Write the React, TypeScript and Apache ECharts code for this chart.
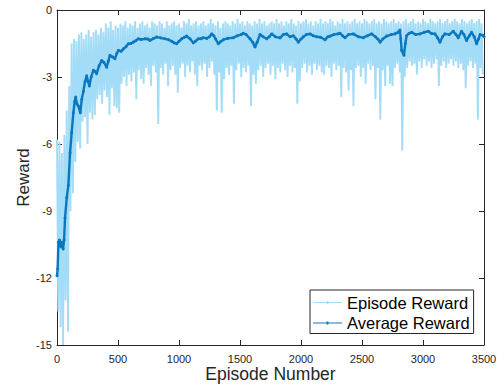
import React, { useEffect, useRef } from "react";
import * as echarts from "echarts";

// Axis ranges / ticks
const X_MIN = 0;
const X_MAX = 3500;
const X_STEP = 500;
const Y_MIN = -15;
const Y_MAX = 0;
const Y_STEP = 3;

// Episode reward: band, one (upper, lower) pair per 20 episodes
const EP_BIN = 20;
const EP_HIGH = [
  -5.8, -5.9, -6.4, -5.6, -4.5, -3.4, -1.5, -1.3, -1.4, -1.1,
  -1.0, -1.3, -1.1, -0.9, -1.2, -1.0, -0.9, -1.1, -0.8, -1.0,
  -0.6, -0.8, -0.5, -0.9, -0.7, -0.8, -0.6, -0.7, -0.5, -0.8,
  -0.6, -0.7, -0.5, -0.8, -0.6, -0.5, -0.7, -0.6, -0.8, -0.5,
  -0.6, -0.7, -0.5, -0.6, -0.8, -0.5, -0.7, -0.6, -0.5, -0.7,
  -0.6, -0.8, -0.5, -0.6, -0.4, -0.7, -0.6, -0.5, -0.7, -0.6,
  -0.5, -0.7, -0.6, -0.4, -0.6, -0.7, -0.5, -0.8, -0.6, -0.5,
  -0.6, -0.7, -0.5, -0.6, -0.4, -0.6, -0.5, -0.7, -0.5, -0.6,
  -0.7, -0.5, -0.6, -0.4, -0.6, -0.5, -0.7, -0.6, -0.5, -0.6,
  -0.4, -0.6, -0.5, -0.7, -0.5, -0.6, -0.4, -0.6, -0.7, -0.5,
  -0.6, -0.5, -0.4, -0.6, -0.5, -0.7, -0.5, -0.6, -0.4, -0.6,
  -0.5, -0.6, -0.4, -0.5, -0.7, -0.5, -0.6, -0.4, -0.6, -0.5,
  -0.6, -0.5, -0.4, -0.6, -0.5, -0.6, -0.4, -0.5, -0.6, -0.5,
  -0.4, -0.6, -0.5, -0.6, -0.4, -0.5, -0.6, -0.5, -0.4, -0.6,
  -0.5, -0.6, -0.5, -0.4, -0.6, -0.5, -0.4, -0.6, -0.5, -0.6,
  -0.4, -0.5, -0.6, -0.4, -0.5, -0.6, -0.5, -0.4, -0.6, -0.5,
  -0.4, -0.6, -0.5, -0.4, -0.5, -0.6, -0.4, -0.5, -0.6, -0.5,
  -0.4, -0.6, -0.5, -0.4, -0.6,
];
const EP_LOW = [
  -13.5, -14.2, -15.0, -13.0, -14.4, -9.0, -8.2, -6.8, -5.9, -6.2,
  -5.0, -4.8, -6.0, -4.6, -4.9, -4.7, -4.0, -3.8, -4.2, -3.6,
  -3.9, -4.7, -3.5, -4.3, -4.4, -4.6, -3.3, -3.0, -3.4, -2.9,
  -3.2, -2.8, -4.0, -2.7, -3.1, -3.3, -2.6, -2.9, -3.4, -2.5,
  -2.8, -5.1, -2.6, -2.9, -2.4, -3.4, -2.7, -2.5, -2.9, -3.7,
  -2.6, -2.4, -3.0, -2.5, -2.8, -2.3, -2.9, -3.4, -2.5, -2.7,
  -2.4, -3.0, -2.6, -2.3, -2.9, -4.5, -2.8, -4.6, -3.1, -2.6,
  -2.9, -2.5, -4.2, -2.7, -2.4, -3.0, -2.6, -2.8, -2.5, -4.3,
  -2.9, -3.3, -2.7, -2.5, -3.0, -2.6, -2.4, -2.9, -2.5, -3.1,
  -2.6, -2.8, -2.4, -2.7, -3.0, -2.5, -2.8, -2.6, -4.2, -3.2,
  -2.6, -2.4, -2.8, -2.5, -2.9, -2.4, -2.7, -2.5, -2.8, -2.9,
  -2.5, -2.6, -3.0, -2.4, -2.7, -2.5, -3.9, -2.6, -2.8, -3.6,
  -2.7, -4.3, -2.6, -2.5, -3.0, -2.6, -3.3, -2.4, -2.7, -2.5,
  -4.0, -2.6, -4.9, -2.7, -3.4, -2.5, -3.3, -3.4, -2.6, -2.4,
  -2.8, -6.3, -3.0, -2.6, -2.3, -2.5, -2.4, -2.9, -2.3, -2.6,
  -2.2, -2.5, -2.3, -2.6, -2.4, -2.2, -3.4, -2.5, -2.3, -2.6,
  -2.4, -2.2, -2.5, -2.3, -2.6, -2.4, -2.7, -3.5, -2.5, -2.3,
  -2.6, -2.4, -4.9, -2.6, -2.9,
];

// Average reward: [episode, value]
const AVG_EPISODES = [
  0, 5, 12, 20, 30, 40, 50, 58, 66, 80, 93, 107, 120, 134, 145, 153, 163, 175, 191, 203,
  216, 230, 243, 255, 265, 280, 298, 312, 325, 345, 366, 385, 407, 420, 434, 455, 475, 490, 503, 525,
  544, 565, 585, 605, 625, 645, 666, 690, 721, 745, 762, 790, 817, 850, 885, 915, 940, 960, 981, 1000,
  1022, 1045, 1063, 1090, 1117, 1135, 1158, 1180, 1199, 1227, 1250, 1268, 1285, 1300, 1322, 1340, 1363, 1400, 1445, 1480,
  1510, 1527, 1550, 1582, 1605, 1623, 1640, 1664, 1690, 1719, 1740, 1760, 1790, 1828, 1855, 1882, 1910, 1937, 1960, 1978,
  2000, 2019, 2045, 2074, 2100, 2128, 2160, 2197, 2220, 2238, 2270, 2300, 2320, 2340, 2361, 2390, 2429, 2470, 2511, 2545,
  2579, 2610, 2630, 2648, 2670, 2702, 2740, 2770, 2795, 2811, 2818, 2825, 2844, 2855, 2866, 2885, 2907, 2940, 2975, 3010,
  3043, 3070, 3098, 3120, 3139, 3160, 3180, 3215, 3248, 3270, 3289, 3316, 3335, 3357, 3380, 3398, 3420, 3439, 3455, 3467,
  3494, 3500,
];
const AVG_VALUES = [
  -11.9, -11.6, -10.4, -10.3, -10.6, -10.4, -10.7, -10.3, -9.3, -8.4, -7.85, -6.4, -5.5, -4.6, -4.1, -3.9, -4.2, -4.3, -4.6, -4.0,
  -3.65, -3.2, -2.95, -3.2, -3.4, -3.0, -2.7, -2.75, -2.85, -2.5, -2.26, -2.35, -2.56, -2.3, -2.03, -2.1, -2.18, -1.95, -1.81, -1.85,
  -1.74, -1.65, -1.51, -1.5, -1.44, -1.38, -1.29, -1.32, -1.29, -1.3, -1.36, -1.28, -1.21, -1.25, -1.29, -1.33, -1.4, -1.47, -1.51, -1.4,
  -1.29, -1.22, -1.17, -1.29, -1.47, -1.4, -1.29, -1.29, -1.24, -1.27, -1.2, -1.07, -1.15, -1.3, -1.51, -1.42, -1.33, -1.27, -1.24, -1.15,
  -1.1, -1.04, -1.1, -1.29, -1.45, -1.66, -1.45, -1.1, -1.2, -1.29, -1.2, -1.07, -1.2, -1.25, -1.1, -1.07, -1.2, -1.15, -1.3, -1.44,
  -1.3, -1.2, -1.1, -1.07, -1.15, -1.2, -1.22, -1.33, -1.2, -1.17, -1.1, -1.07, -1.04, -1.15, -1.24, -1.1, -1.07, -1.2, -1.24, -1.15,
  -1.07, -1.2, -1.3, -1.44, -1.3, -1.17, -1.1, -1.07, -1.0, -0.9, -1.3, -1.81, -2.03, -1.5, -1.15, -1.05, -1.0, -1.1, -1.07, -1.0,
  -0.95, -1.05, -1.07, -1.25, -1.44, -1.2, -1.07, -1.1, -0.95, -1.1, -1.24, -0.95, -1.1, -1.37, -1.15, -1.0, -1.2, -1.51, -1.3, -1.1,
  -1.14, -1.2,
];

const EP_COLOR = "#a3dcf7";
const AVG_COLOR = "#0a78be";
const AX_COLOR = "#262626";
const FONT = "'Liberation Sans', Arial, Helvetica, sans-serif";

export default function App() {
  const ref = useRef<HTMLDivElement>(null);

  useEffect(() => {
    if (!ref.current) return;
    const chart = echarts.init(ref.current, null, { renderer: "svg" });

    const episodeData: number[][] = [];
    EP_HIGH.forEach((h, i) => {
      episodeData.push([i * EP_BIN, h]);
      episodeData.push([i * EP_BIN + EP_BIN / 2, EP_LOW[i]]);
    });
    const avgData = AVG_EPISODES.map((e, i) => [e, AVG_VALUES[i]]);

    const tickCommon = {
      axisLine: { show: true, onZero: false, lineStyle: { color: AX_COLOR, width: 1 } },
      axisTick: { show: true, inside: true, length: 5, lineStyle: { color: AX_COLOR, width: 1 } },
      splitLine: { show: false },
    };
    const plain = (v: number) => String(v);

    chart.setOption({
      animation: false,
      backgroundColor: "#ffffff",
      grid: { left: 57, right: 20, top: 10, bottom: 44 },
      xAxis: [
        {
          type: "value",
          min: X_MIN,
          max: X_MAX,
          interval: X_STEP,
          position: "bottom",
          ...tickCommon,
          axisLabel: { color: AX_COLOR, fontSize: 11, fontFamily: FONT, margin: 8, formatter: plain },
          name: "Episode Number",
          nameLocation: "middle",
          nameGap: 20,
          nameMoveOverlap: false,
          nameTextStyle: { color: AX_COLOR, fontSize: 17.5, fontFamily: FONT },
        },
        {
          type: "value",
          min: X_MIN,
          max: X_MAX,
          interval: X_STEP,
          position: "top",
          ...tickCommon,
          axisLabel: { show: false },
        },
      ],
      yAxis: [
        {
          type: "value",
          min: Y_MIN,
          max: Y_MAX,
          interval: Y_STEP,
          position: "left",
          ...tickCommon,
          axisLabel: { color: AX_COLOR, fontSize: 11, fontFamily: FONT, margin: 5, formatter: plain },
          name: "Reward",
          nameLocation: "middle",
          nameGap: 25,
          nameMoveOverlap: false,
          nameTextStyle: { color: AX_COLOR, fontSize: 17, fontFamily: FONT },
        },
        {
          type: "value",
          min: Y_MIN,
          max: Y_MAX,
          interval: Y_STEP,
          position: "right",
          ...tickCommon,
          axisLabel: { show: false },
        },
      ],
      legend: {
        orient: "vertical",
        left: 310,
        top: 290,
        padding: [4, 4, 2, 3],
        itemGap: 3.5,
        itemWidth: 29,
        itemHeight: 3,
        backgroundColor: "#ffffff",
        borderColor: AX_COLOR,
        borderWidth: 1,
        textStyle: { color: "#000000", fontSize: 16.5, fontFamily: FONT },
        data: [
          { name: "Episode Reward", icon: "path://M0,1L30,1L30,2L0,2ZM14,0L16,0L16,3L14,3Z" },
          { name: "Average Reward", icon: "path://M0,0.9L30,0.9L30,2.1L0,2.1ZM14,0L16,0L16,3L14,3Z" },
        ],
      },
      series: [
        {
          name: "Episode Reward",
          type: "line",
          data: episodeData,
          showSymbol: false,
          symbol: "none",
          lineStyle: { color: EP_COLOR, width: 1.9 },
          itemStyle: { color: EP_COLOR },
          clip: true,
          z: 2,
        },
        {
          name: "Average Reward",
          type: "line",
          data: avgData,
          symbol: "circle",
          symbolSize: 3,
          showSymbol: true,
          lineStyle: { color: AVG_COLOR, width: 2.4 },
          itemStyle: { color: AVG_COLOR },
          clip: true,
          z: 3,
        },
      ],
    });

    return () => chart.dispose();
  }, []);

  return (
    <div
      ref={ref}
      style={{ position: "absolute", left: 0, top: 0, width: 504, height: 389 }}
    />
  );
}
